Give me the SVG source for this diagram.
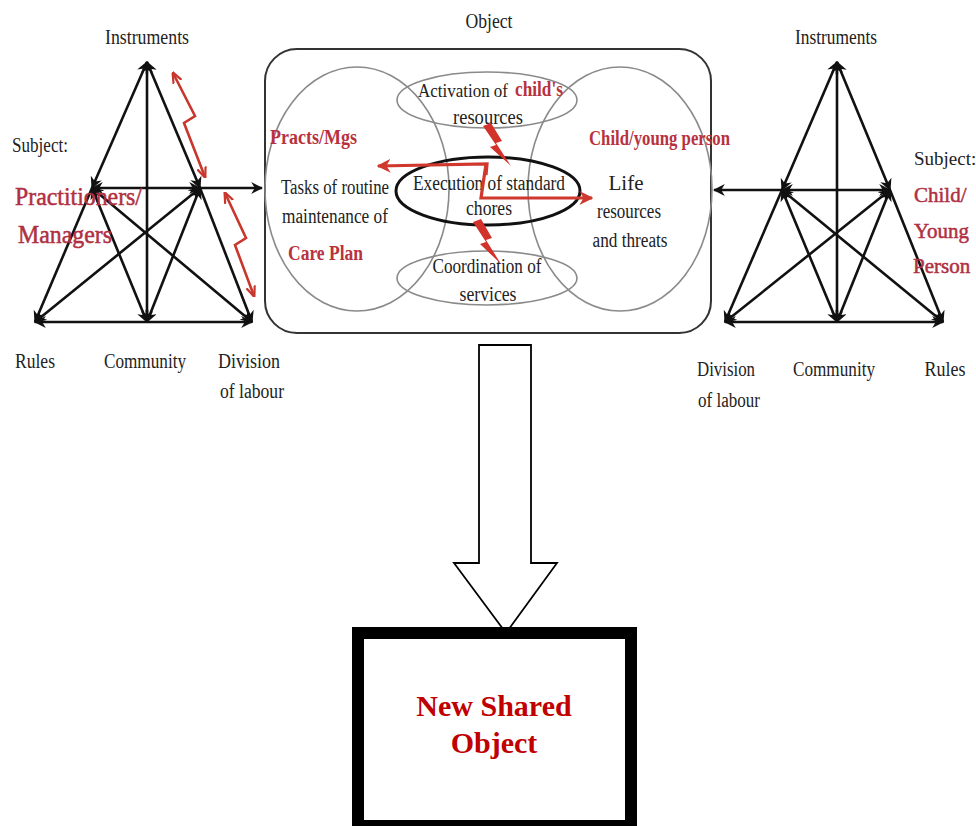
<svg xmlns="http://www.w3.org/2000/svg" width="976" height="826" viewBox="0 0 976 826">
  <style>
    .lbl { font-family: "Liberation Serif", "Times New Roman", serif; font-size: 20px; fill: #222; }
    .red { font-family: "Liberation Serif", "Times New Roman", serif; font-weight: bold; fill: #b8323e; }
    .subj { font-family: "Liberation Serif", "Times New Roman", serif; font-size: 25px; fill: #b03042; stroke: #b03042; stroke-width: 0.5; }
    .subj.sm { font-size: 21px; }
    .edge { stroke: #111; stroke-width: 2.6; fill: none; marker-start: url(#ah); marker-end: url(#ah); }
    .one { stroke: #111; stroke-width: 2.6; fill: none; marker-end: url(#ah); }
    .oval { fill: none; stroke: #8a8a8a; stroke-width: 1.6; }
    .zig { stroke: #c8372d; stroke-width: 2.6; fill: none; stroke-linejoin: miter; marker-start: url(#rh); marker-end: url(#rh); }
    .rarr { stroke: #d0382e; stroke-width: 3.2; fill: none; marker-end: url(#rh2); }
    .bolt { fill: #d3322b; }
  </style>
  <defs>
    <marker id="ah" viewBox="0 0 10 10" refX="9" refY="5" markerWidth="12" markerHeight="12" markerUnits="userSpaceOnUse" orient="auto-start-reverse">
      <path d="M0,0 L10,5 L0,10 L3,5 z" fill="#111"/>
    </marker>
    <marker id="rh" viewBox="0 0 10 10" refX="9" refY="5" markerWidth="11" markerHeight="11" markerUnits="userSpaceOnUse" orient="auto-start-reverse">
      <path d="M0,1 L10,5 L0,9" fill="none" stroke="#c8372d" stroke-width="2"/>
    </marker>
    <marker id="rh2" viewBox="0 0 10 10" refX="9" refY="5" markerWidth="14" markerHeight="14" markerUnits="userSpaceOnUse" orient="auto">
      <path d="M0,0 L10,5 L0,10 L3,5 z" fill="#d0382e"/>
    </marker>
  </defs>

  <!-- left activity system: practitioners / managers -->
  <g id="left-system">
    <g id="left-connectors">
      <line class="edge" x1="147" y1="62" x2="92" y2="188"/>
      <line class="one" x1="92" y1="188" x2="35" y2="322"/>
      <line class="edge" x1="147" y1="62" x2="200" y2="188"/>
      <line class="one" x1="200" y1="188" x2="252" y2="322"/>
      <line class="edge" x1="147" y1="62" x2="147" y2="322"/>
      <line class="edge" x1="92" y1="188" x2="200" y2="188"/>
      <line class="one" x1="200" y1="188" x2="262" y2="188"/>
      <line class="edge" x1="92" y1="188" x2="147" y2="322"/>
      <line class="edge" x1="92" y1="188" x2="252" y2="322"/>
      <line class="edge" x1="200" y1="188" x2="35" y2="322"/>
      <line class="edge" x1="200" y1="188" x2="147" y2="322"/>
      <line class="edge" x1="35" y1="322" x2="252" y2="322"/>
      <polyline class="zig" points="173,73 195,116 184,123 205,177"/>
      <polyline class="zig" points="225,193 246,238 235,245 254,296"/>
    </g>
    <text class="lbl" x="147" y="44" text-anchor="middle" textLength="84" lengthAdjust="spacingAndGlyphs">Instruments</text>
    <text class="lbl" x="12" y="152" textLength="56" lengthAdjust="spacingAndGlyphs">Subject:</text>
    <text class="subj" x="15" y="205" textLength="127" lengthAdjust="spacingAndGlyphs">Practitioners/</text>
    <text class="subj" x="18" y="243" textLength="94" lengthAdjust="spacingAndGlyphs">Managers</text>
    <text class="lbl" x="15" y="368" textLength="40" lengthAdjust="spacingAndGlyphs">Rules</text>
    <text class="lbl" x="145" y="368" text-anchor="middle" textLength="82" lengthAdjust="spacingAndGlyphs">Community</text>
    <text class="lbl" x="249" y="368" text-anchor="middle" textLength="62" lengthAdjust="spacingAndGlyphs">Division</text>
    <text class="lbl" x="252" y="398" text-anchor="middle" textLength="64" lengthAdjust="spacingAndGlyphs">of labour</text>
  </g>

  <!-- shared object -->
  <g id="object">
    <text class="lbl" x="489" y="28" text-anchor="middle" textLength="47" lengthAdjust="spacingAndGlyphs">Object</text>
    <rect x="265" y="49" width="446" height="284" rx="32" fill="none" stroke="#333" stroke-width="2"/>
    <ellipse class="oval" cx="357" cy="189" rx="92" ry="122"/>
    <ellipse class="oval" cx="620" cy="189" rx="92" ry="122"/>
    <ellipse class="oval" cx="487" cy="100" rx="90" ry="28"/>
    <ellipse class="oval" cx="487" cy="278" rx="90" ry="27"/>
    <ellipse cx="488" cy="191" rx="92" ry="34" fill="none" stroke="#111" stroke-width="3"/>

    <text class="lbl" x="418" y="97" style="font-size:18px" textLength="90" lengthAdjust="spacingAndGlyphs">Activation of</text>
    <text class="red" x="515" y="96" font-size="20" textLength="48" lengthAdjust="spacingAndGlyphs">child's</text>
    <text class="lbl" x="488" y="124" text-anchor="middle" textLength="70" lengthAdjust="spacingAndGlyphs">resources</text>
    <text class="red" x="270" y="144" font-size="20" textLength="87" lengthAdjust="spacingAndGlyphs">Practs/Mgs</text>
    <text class="red" x="589" y="145" font-size="20" textLength="141" lengthAdjust="spacingAndGlyphs">Child/young person</text>
    <text class="lbl" x="335" y="194" text-anchor="middle" textLength="108" lengthAdjust="spacingAndGlyphs">Tasks of routine</text>
    <text class="lbl" x="335" y="223" text-anchor="middle" textLength="106" lengthAdjust="spacingAndGlyphs">maintenance of</text>
    <text class="red" x="288" y="260" font-size="20" textLength="75" lengthAdjust="spacingAndGlyphs">Care Plan</text>
    <text class="lbl" x="489" y="190" text-anchor="middle" textLength="152" lengthAdjust="spacingAndGlyphs">Execution of standard</text>
    <text class="lbl" x="489" y="215" text-anchor="middle" textLength="46" lengthAdjust="spacingAndGlyphs">chores</text>
    <text class="lbl" x="626" y="190" text-anchor="middle" textLength="35" lengthAdjust="spacingAndGlyphs">Life</text>
    <text class="lbl" x="629" y="218" text-anchor="middle" textLength="64" lengthAdjust="spacingAndGlyphs">resources</text>
    <text class="lbl" x="630" y="247" text-anchor="middle" textLength="75" lengthAdjust="spacingAndGlyphs">and threats</text>
    <text class="lbl" x="487" y="273" text-anchor="middle" textLength="109" lengthAdjust="spacingAndGlyphs">Coordination of</text>
    <text class="lbl" x="488" y="301" text-anchor="middle" textLength="57" lengthAdjust="spacingAndGlyphs">services</text>

    <!-- tensions between the object's parts -->
    <g id="object-tensions">
      <polyline class="rarr" points="486,175 487,164 378,166"/>
      <polyline class="rarr" points="486,164 481,198 592,198"/>
      <polygon class="bolt" points="483,126 491,123 502,141 496,143 511,166 490,147 496,145"/>
      <polygon class="bolt" points="473,222 481,219 492,238 486,240 501,264 480,244 486,242"/>
    </g>
  </g>

  <!-- right activity system: child / young person -->
  <g id="right-system">
    <g id="right-connectors">
      <line class="edge" x1="837" y1="62" x2="782" y2="190"/>
      <line class="one" x1="782" y1="190" x2="725" y2="322"/>
      <line class="edge" x1="837" y1="62" x2="890" y2="190"/>
      <line class="one" x1="890" y1="190" x2="943" y2="322"/>
      <line class="edge" x1="837" y1="62" x2="837" y2="322"/>
      <line class="edge" x1="782" y1="190" x2="890" y2="190"/>
      <line class="one" x1="782" y1="190" x2="714" y2="190"/>
      <line class="edge" x1="782" y1="190" x2="837" y2="322"/>
      <line class="edge" x1="782" y1="190" x2="943" y2="322"/>
      <line class="edge" x1="890" y1="190" x2="725" y2="322"/>
      <line class="edge" x1="890" y1="190" x2="837" y2="322"/>
      <line class="edge" x1="725" y1="322" x2="943" y2="322"/>
    </g>
    <text class="lbl" x="836" y="44" text-anchor="middle" textLength="82" lengthAdjust="spacingAndGlyphs">Instruments</text>
    <text x="914" y="165" font-family="Liberation Serif, 'Times New Roman', serif" font-size="19" fill="#222">Subject:</text>
    <text class="subj sm" x="914" y="202">Child/</text>
    <text class="subj sm" x="914" y="238">Young</text>
    <text class="subj sm" x="913" y="273">Person</text>
    <text class="lbl" x="726" y="376" text-anchor="middle" textLength="58" lengthAdjust="spacingAndGlyphs">Division</text>
    <text class="lbl" x="729" y="407" text-anchor="middle" textLength="62" lengthAdjust="spacingAndGlyphs">of labour</text>
    <text class="lbl" x="834" y="376" text-anchor="middle" textLength="82" lengthAdjust="spacingAndGlyphs">Community</text>
    <text class="lbl" x="945" y="376" text-anchor="middle" textLength="41" lengthAdjust="spacingAndGlyphs">Rules</text>
  </g>

  <!-- block arrow down to the outcome -->
  <g id="down-arrow">
    <polygon points="479,345 531,345 531,563 557,563 506,633 454,563 479,563" fill="#fff" stroke="#000" stroke-width="1.8"/>
  </g>

  <!-- outcome box -->
  <g id="new-shared-object">
    <rect x="358" y="633" width="273" height="193" fill="#fff" stroke="#000" stroke-width="12"/>
    <text x="494" y="716" text-anchor="middle" font-family="Liberation Serif, 'Times New Roman', serif" font-weight="bold" font-size="30" fill="#c00000">New Shared</text>
    <text x="494" y="753" text-anchor="middle" font-family="Liberation Serif, 'Times New Roman', serif" font-weight="bold" font-size="30" fill="#c00000">Object</text>
  </g>
</svg>
